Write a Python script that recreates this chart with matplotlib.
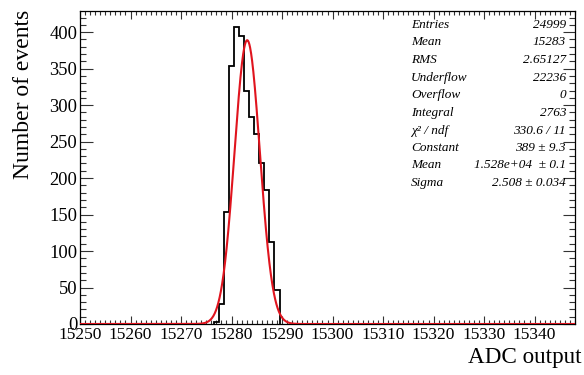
import numpy as np
import matplotlib
matplotlib.use("Agg")
import matplotlib.pyplot as plt
from matplotlib.ticker import MultipleLocator

# histogram contents (bin centres, counts)
bin_centres = [15277, 15278, 15279, 15280, 15281, 15282, 15283,
               15284, 15285, 15286, 15287, 15288, 15289]
counts = [3, 28, 154, 353, 407, 395, 320, 284, 261, 221, 184, 113, 47]

# gaussian fit parameters
fit_const = 389.0
fit_mean = 15283.1
fit_sigma = 2.508

stat_names = ["Entries", "Mean", "RMS", "Underflow", "Overflow", "Integral",
              "\u03c7\u00b2 / ndf", "Constant", "Mean", "Sigma"]
stat_values = ["24999", "15283", "2.65127", "22236", "0", "2763",
               "330.6 / 11", "389 \u00b1 9.3", "1.528e+04  \u00b1 0.1",
               "2.508 \u00b1 0.034"]

serif = "Liberation Serif"
red = "#e0141e"

fig = plt.figure(figsize=(5.84, 3.75), dpi=100)
ax = fig.add_axes([80 / 584, 1 - 324 / 375, 495 / 584, 313 / 375])

edges = np.append(np.array(bin_centres) - 0.5, bin_centres[-1] + 0.5)
ax.stairs(counts, edges, baseline=0, color="black", lw=1.3, zorder=3)

xs = np.linspace(15250, 15348, 2000)
ax.plot(xs, fit_const * np.exp(-0.5 * ((xs - fit_mean) / fit_sigma) ** 2),
        color=red, lw=1.5, zorder=4)

ax.set_xlim(15250, 15348)
ax.set_ylim(0, 429)

ax.xaxis.set_major_locator(MultipleLocator(10))
ax.xaxis.set_minor_locator(MultipleLocator(1))
ax.yaxis.set_major_locator(MultipleLocator(50))
ax.yaxis.set_minor_locator(MultipleLocator(10))

ax.tick_params(axis="both", which="both", direction="in", top=True, right=True,
               width=0.8, color="#333333")
ax.tick_params(axis="x", which="major", length=6, pad=2)
ax.tick_params(axis="x", which="minor", length=3)
ax.tick_params(axis="y", which="major", length=9, pad=2)
ax.tick_params(axis="y", which="minor", length=4.5)

for lab in ax.get_xticklabels():
    lab.set_fontfamily(serif)
    lab.set_fontsize(12.5)
for lab in ax.get_yticklabels():
    lab.set_fontfamily(serif)
    lab.set_fontsize(13.3)

for sp in ax.spines.values():
    sp.set_linewidth(0.9)

fig.text(24 / 584, 1 - 10 / 375, "Number of events", rotation=90,
         ha="center", va="top", family=serif, fontsize=17)
fig.text(582 / 584, 1 - 358 / 375, "ADC output", ha="right", va="center",
         family=serif, fontsize=16.7)

row_y = [25, 42.3, 60, 77.7, 95, 113.3, 130.7, 147.7, 165, 182.7]
for name, val, y in zip(stat_names, stat_values, row_y):
    fig.text(411 / 584, 1 - y / 375, name, ha="left", va="center",
             family=serif, style="italic", fontsize=9.5)
    fig.text(566 / 584, 1 - y / 375, val, ha="right", va="center",
             family=serif, style="italic", fontsize=9.5)

fig.savefig("out.png", dpi=100)
